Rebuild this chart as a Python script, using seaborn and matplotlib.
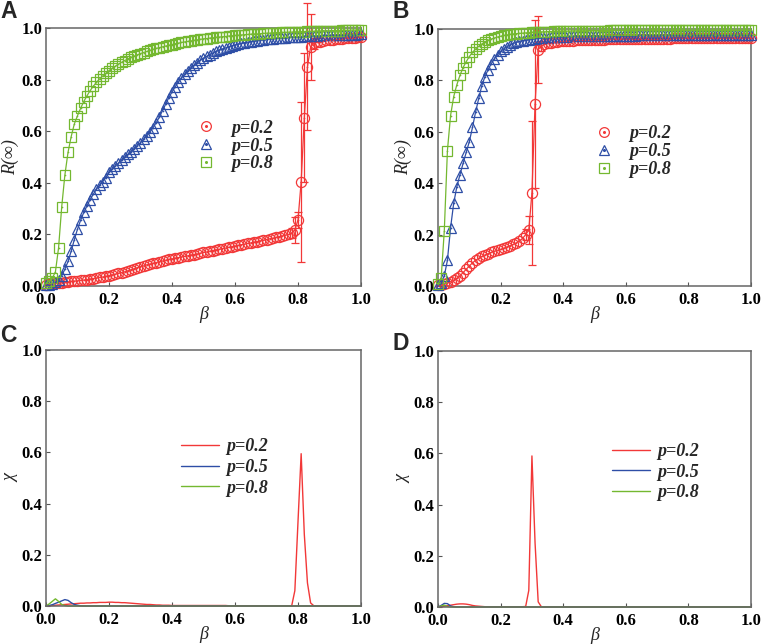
import numpy as np
import matplotlib
matplotlib.use("Agg")
import matplotlib.pyplot as plt
from matplotlib.lines import Line2D
import seaborn as sns

# ---------------- data ----------------
beta = np.round(np.arange(0, 101) * 0.01, 2)
labels = ["p=0.2", "p=0.5", "p=0.8"]

# Panel A : R(inf)
RA_02 = [0.005,0.006,0.008,0.010,0.012,0.013,0.015,0.016,0.018,0.019,
         0.020,0.022,0.023,0.025,0.027,0.029,0.031,0.033,0.035,0.037,
         0.040,0.043,0.046,0.049,0.052,0.055,0.059,0.063,0.067,0.071,
         0.075,0.078,0.082,0.085,0.088,0.091,0.094,0.097,0.100,0.103,
         0.105,0.108,0.110,0.113,0.115,0.117,0.120,0.122,0.124,0.127,
         0.130,0.132,0.135,0.137,0.140,0.142,0.145,0.147,0.150,0.152,
         0.155,0.157,0.160,0.162,0.165,0.167,0.170,0.172,0.175,0.177,
         0.180,0.183,0.185,0.188,0.191,0.194,0.197,0.200,0.205,0.217,
         0.256,0.404,0.652,0.850,0.927,0.940,0.944,0.947,0.950,0.952,
         0.954,0.955,0.957,0.958,0.959,0.960,0.961,0.962,0.963,0.964,0.965]
RA_05 = [0.002,0.004,0.008,0.014,0.024,0.040,0.065,0.095,0.135,0.180,
         0.220,0.255,0.285,0.310,0.335,0.355,0.375,0.390,0.405,0.420,
         0.440,0.452,0.464,0.476,0.488,0.499,0.510,0.521,0.532,0.543,
         0.555,0.568,0.582,0.597,0.614,0.633,0.655,0.680,0.705,0.730,
         0.752,0.772,0.790,0.806,0.820,0.833,0.845,0.856,0.866,0.875,
         0.883,0.890,0.897,0.903,0.909,0.914,0.919,0.923,0.927,0.931,
         0.934,0.937,0.940,0.943,0.945,0.947,0.949,0.951,0.953,0.955,
         0.956,0.958,0.959,0.960,0.961,0.962,0.963,0.964,0.965,0.966,
         0.966,0.967,0.968,0.968,0.969,0.969,0.970,0.970,0.971,0.971,
         0.972,0.972,0.972,0.973,0.973,0.973,0.974,0.974,0.974,0.975,0.975]
RA_08 = [0.010,0.020,0.030,0.055,0.148,0.307,0.430,0.518,0.579,0.628,
         0.660,0.689,0.715,0.737,0.757,0.774,0.789,0.802,0.814,0.825,
         0.835,0.844,0.852,0.860,0.867,0.874,0.880,0.886,0.891,0.896,
         0.901,0.905,0.909,0.913,0.917,0.921,0.924,0.927,0.930,0.933,
         0.936,0.939,0.941,0.944,0.946,0.948,0.950,0.952,0.954,0.956,
         0.958,0.959,0.961,0.962,0.964,0.965,0.966,0.967,0.969,0.970,
         0.971,0.972,0.973,0.974,0.975,0.976,0.977,0.977,0.978,0.979,
         0.980,0.980,0.981,0.982,0.982,0.983,0.983,0.984,0.984,0.985,
         0.985,0.986,0.986,0.987,0.987,0.987,0.988,0.988,0.989,0.989,
         0.989,0.990,0.990,0.990,0.991,0.991,0.991,0.992,0.992,0.992,0.993]
# error bars (beta, value, error) for p=0.2 near transition, panel A
errA_beta = [0.78, 0.79, 0.80, 0.81, 0.82, 0.83, 0.84, 0.85]
errA_val = [0.205, 0.217, 0.256, 0.404, 0.652, 0.850, 0.927, 0.940]
errA_err = [0.020, 0.050, 0.030, 0.310, 0.250, 0.247, 0.127, 0.020]

# Panel B : R(inf)
RB_02 = [0.003,0.005,0.008,0.012,0.017,0.023,0.030,0.040,0.052,0.065,
         0.078,0.090,0.100,0.108,0.115,0.121,0.126,0.131,0.135,0.139,
         0.143,0.147,0.152,0.157,0.162,0.168,0.175,0.185,0.200,0.218,
         0.363,0.708,0.920,0.934,0.940,0.944,0.947,0.949,0.951,0.952,
         0.953,0.954,0.955,0.955,0.956,0.956,0.957,0.957,0.958,0.958,
         0.958,0.959,0.959,0.959,0.960,0.960,0.960,0.960,0.961,0.961,
         0.961,0.961,0.961,0.962,0.962,0.962,0.962,0.962,0.962,0.963,
         0.963,0.963,0.963,0.963,0.963,0.964,0.964,0.964,0.964,0.964,
         0.964,0.964,0.964,0.965,0.965,0.965,0.965,0.965,0.965,0.965,
         0.965,0.965,0.966,0.966,0.966,0.966,0.966,0.966,0.966,0.966,0.966]
RB_05 = [0.003,0.012,0.040,0.100,0.226,0.322,0.386,0.433,0.477,0.520,
         0.562,0.617,0.677,0.730,0.780,0.815,0.842,0.865,0.884,0.900,
         0.913,0.923,0.931,0.938,0.944,0.948,0.952,0.955,0.957,0.959,
         0.961,0.963,0.964,0.965,0.966,0.967,0.968,0.969,0.969,0.970,
         0.970,0.970,0.971,0.971,0.971,0.972,0.972,0.972,0.972,0.973,
         0.973,0.973,0.973,0.973,0.973,0.974,0.974,0.974,0.974,0.974,
         0.974,0.974,0.974,0.974,0.975,0.975,0.975,0.975,0.975,0.975,
         0.975,0.975,0.975,0.975,0.975,0.975,0.975,0.975,0.975,0.975,
         0.975,0.975,0.975,0.975,0.975,0.976,0.976,0.976,0.976,0.976,
         0.976,0.976,0.976,0.976,0.976,0.976,0.976,0.976,0.976,0.976,0.976]
RB_08 = [0.008,0.030,0.215,0.527,0.663,0.737,0.783,0.820,0.850,0.873,
         0.893,0.909,0.922,0.933,0.942,0.950,0.956,0.961,0.965,0.969,
         0.972,0.975,0.977,0.979,0.981,0.982,0.983,0.984,0.985,0.986,
         0.987,0.988,0.988,0.989,0.989,0.990,0.990,0.991,0.991,0.991,
         0.992,0.992,0.992,0.993,0.993,0.993,0.993,0.993,0.994,0.994,
         0.994,0.994,0.994,0.994,0.994,0.995,0.995,0.995,0.995,0.995,
         0.995,0.995,0.995,0.995,0.995,0.995,0.995,0.995,0.995,0.995,
         0.995,0.995,0.995,0.995,0.995,0.995,0.995,0.995,0.995,0.995,
         0.995,0.995,0.995,0.995,0.995,0.995,0.995,0.995,0.995,0.995,
         0.995,0.995,0.995,0.995,0.995,0.995,0.995,0.995,0.995,0.995,0.995]
errB_beta = [0.28, 0.29, 0.30, 0.31, 0.32, 0.33]
errB_val = [0.200, 0.218, 0.363, 0.708, 0.920, 0.934]
errB_err = [0.020, 0.055, 0.280, 0.327, 0.130, 0.020]

# Panel C : chi
CC_02 = [0.000,0.001,0.002,0.003,0.004,0.005,0.006,0.007,0.008,0.009,
         0.010,0.011,0.011,0.012,0.012,0.013,0.013,0.014,0.014,0.014,
         0.015,0.015,0.014,0.014,0.013,0.013,0.012,0.011,0.010,0.009,
         0.008,0.007,0.006,0.006,0.005,0.004,0.004,0.003,0.003,0.003,
         0.002,0.002,0.002,0.002,0.002,0.002,0.002,0.002,0.002,0.002,
         0.002,0.002,0.002,0.002,0.002,0.002,0.002,0.002,0.001,0.001,
         0.001,0.001,0.001,0.001,0.001,0.001,0.001,0.001,0.001,0.001,
         0.001,0.001,0.001,0.001,0.001,0.001,0.001,0.001,0.001,0.060,
         0.330,0.595,0.280,0.090,0.012,0.001,0.000,0.000,0.000,0.000,
         0.000,0.000,0.000,0.000,0.000,0.000,0.000,0.000,0.000,0.000,0.000]
CC_05 = [0.000,0.002,0.005,0.010,0.015,0.020,0.025,0.022,0.013,0.006,
         0.003,0.001,0.000,0.000,0.000,0.000,0.000,0.000,0.000,0.000,
         0.000,0.000,0.000,0.000,0.000,0.000,0.000,0.000,0.000,0.000,
         0.000,0.000,0.000,0.000,0.000,0.000,0.000,0.000,0.000,0.000,
         0.000,0.000,0.000,0.000,0.000,0.000,0.000,0.000,0.000,0.000,
         0.000,0.000,0.000,0.000,0.000,0.000,0.000,0.000,0.000,0.000,
         0.000,0.000,0.000,0.000,0.000,0.000,0.000,0.000,0.000,0.000,
         0.000,0.000,0.000,0.000,0.000,0.000,0.000,0.000,0.000,0.000,
         0.000,0.000,0.000,0.000,0.000,0.000,0.000,0.000,0.000,0.000,
         0.000,0.000,0.000,0.000,0.000,0.000,0.000,0.000,0.000,0.000,0.000]
CC_08 = [0.000,0.008,0.018,0.028,0.018,0.006,0.002,0.000,0.000,0.000,
         0.000,0.000,0.000,0.000,0.000,0.000,0.000,0.000,0.000,0.000,
         0.000,0.000,0.000,0.000,0.000,0.000,0.000,0.000,0.000,0.000,
         0.000,0.000,0.000,0.000,0.000,0.000,0.000,0.000,0.000,0.000,
         0.000,0.000,0.000,0.000,0.000,0.000,0.000,0.000,0.000,0.000,
         0.000,0.000,0.000,0.000,0.000,0.000,0.000,0.000,0.000,0.000,
         0.000,0.000,0.000,0.000,0.000,0.000,0.000,0.000,0.000,0.000,
         0.000,0.000,0.000,0.000,0.000,0.000,0.000,0.000,0.000,0.000,
         0.000,0.000,0.000,0.000,0.000,0.000,0.000,0.000,0.000,0.000,
         0.000,0.000,0.000,0.000,0.000,0.000,0.000,0.000,0.000,0.000,0.000]

# Panel D : chi
CD_02 = [0.000,0.001,0.003,0.005,0.007,0.009,0.011,0.012,0.012,0.011,
         0.009,0.006,0.004,0.003,0.002,0.001,0.001,0.001,0.001,0.001,
         0.001,0.001,0.001,0.001,0.001,0.001,0.001,0.001,0.002,0.065,
         0.590,0.250,0.020,0.001,0.000,0.000,0.000,0.000,0.000,0.000,
         0.000,0.000,0.000,0.000,0.000,0.000,0.000,0.000,0.000,0.000,
         0.000,0.000,0.000,0.000,0.000,0.000,0.000,0.000,0.000,0.000,
         0.000,0.000,0.000,0.000,0.000,0.000,0.000,0.000,0.000,0.000,
         0.000,0.000,0.000,0.000,0.000,0.000,0.000,0.000,0.000,0.000,
         0.000,0.000,0.000,0.000,0.000,0.000,0.000,0.000,0.000,0.000,
         0.000,0.000,0.000,0.000,0.000,0.000,0.000,0.000,0.000,0.000,0.000]
CD_05 = [0.000,0.006,0.014,0.013,0.004,0.001,0.000,0.000,0.000,0.000,
         0.000,0.000,0.000,0.000,0.000,0.000,0.000,0.000,0.000,0.000,
         0.000,0.000,0.000,0.000,0.000,0.000,0.000,0.000,0.000,0.000,
         0.000,0.000,0.000,0.000,0.000,0.000,0.000,0.000,0.000,0.000,
         0.000,0.000,0.000,0.000,0.000,0.000,0.000,0.000,0.000,0.000,
         0.000,0.000,0.000,0.000,0.000,0.000,0.000,0.000,0.000,0.000,
         0.000,0.000,0.000,0.000,0.000,0.000,0.000,0.000,0.000,0.000,
         0.000,0.000,0.000,0.000,0.000,0.000,0.000,0.000,0.000,0.000,
         0.000,0.000,0.000,0.000,0.000,0.000,0.000,0.000,0.000,0.000,
         0.000,0.000,0.000,0.000,0.000,0.000,0.000,0.000,0.000,0.000,0.000]
CD_08 = [0.000,0.004,0.007,0.002,0.000,0.000,0.000,0.000,0.000,0.000,
         0.000,0.000,0.000,0.000,0.000,0.000,0.000,0.000,0.000,0.000,
         0.000,0.000,0.000,0.000,0.000,0.000,0.000,0.000,0.000,0.000,
         0.000,0.000,0.000,0.000,0.000,0.000,0.000,0.000,0.000,0.000,
         0.000,0.000,0.000,0.000,0.000,0.000,0.000,0.000,0.000,0.000,
         0.000,0.000,0.000,0.000,0.000,0.000,0.000,0.000,0.000,0.000,
         0.000,0.000,0.000,0.000,0.000,0.000,0.000,0.000,0.000,0.000,
         0.000,0.000,0.000,0.000,0.000,0.000,0.000,0.000,0.000,0.000,
         0.000,0.000,0.000,0.000,0.000,0.000,0.000,0.000,0.000,0.000,
         0.000,0.000,0.000,0.000,0.000,0.000,0.000,0.000,0.000,0.000,0.000]

ticks = [0.0, 0.2, 0.4, 0.6, 0.8, 1.0]
tick_labels = ["0.0", "0.2", "0.4", "0.6", "0.8", "1.0"]

colors = ["#F23838", "#2E4EA6", "#74B830"]
markers = ["o", "^", "s"]

# ---------------- style ----------------
sns.set_theme(style="white")
plt.rcParams["font.family"] = ["Liberation Serif", "DejaVu Serif"]

fig = plt.figure(figsize=(7.61, 6.44), dpi=100)
pos = {
    "A": [0.0604, 0.5559, 0.4140, 0.4006],
    "B": [0.5756, 0.5559, 0.4113, 0.3990],
    "C": [0.0604, 0.0590, 0.4140, 0.3975],
    "D": [0.5756, 0.0575, 0.4113, 0.3975],
}
axes = {k: fig.add_axes(v) for k, v in pos.items()}

TICKFONT = {"family": "Liberation Serif", "weight": "bold", "size": 12}
LEGFONT = {"family": "Liberation Serif", "weight": "bold", "style": "italic", "size": 13}


def style_axis(ax, ylabel):
    ax.set_xlim(0, 1)
    ax.set_ylim(0, 1)
    ax.set_xticks(ticks)
    ax.set_yticks(ticks)
    ax.set_xticklabels(tick_labels, fontdict=TICKFONT)
    ax.set_yticklabels(tick_labels, fontdict=TICKFONT)
    ax.tick_params(direction="in", length=3, width=0.8, colors="#555555",
                   labelcolor="black", bottom=True, left=True)
    ax.tick_params(axis="x", pad=4)
    ax.tick_params(axis="y", pad=2.5)
    for s in ax.spines.values():
        s.set_color("#666666")
        s.set_linewidth(1.1)
    ax.set_xlabel("β", fontsize=13, fontstyle="italic", labelpad=-1)
    ax.set_ylabel(ylabel, fontsize=13, fontstyle="italic", labelpad=1.5)


def draw_R(ax, series, err_beta, err_val, err_err, leg_anchor):
    for y, c, m, lab in zip(series, colors, markers, labels):
        sns.lineplot(x=beta, y=y, ax=ax, color=c, linewidth=0.9,
                     marker=m, markersize=7.3, markerfacecolor="none",
                     markeredgecolor=c, markeredgewidth=0.9,
                     clip_on=False, legend=False, zorder=3)
        sns.scatterplot(x=beta, y=y, ax=ax, color=c, s=1.5, linewidth=0,
                        clip_on=False, legend=False, zorder=4)
    ax.errorbar(err_beta, err_val, yerr=err_err, fmt="none", ecolor=colors[0],
                elinewidth=0.9, capsize=3, capthick=0.9, clip_on=False, zorder=2)
    handles = []
    for c, m in zip(colors, markers):
        h1 = Line2D([], [], marker=m, ls="none", mfc="none", mec=c, mew=0.9, ms=7)
        h2 = Line2D([], [], marker="o", ls="none", mfc=c, mec=c, ms=1.2)
        handles.append((h1, h2))
    ax.legend(handles, labels, loc="upper left", bbox_to_anchor=leg_anchor,
              frameon=False, borderpad=0, borderaxespad=0, handlelength=1.0,
              handletextpad=0.9, labelspacing=0.05, prop=LEGFONT)


def draw_chi(ax, series, leg_anchor):
    for y, c, lab in zip(series, colors, labels):
        sns.lineplot(x=beta, y=y, ax=ax, color=c, linewidth=1.0, label=lab,
                     clip_on=False)
    ax.legend(loc="upper left", bbox_to_anchor=leg_anchor, frameon=False,
              borderpad=0, borderaxespad=0, handlelength=2.1,
              handletextpad=0.4, labelspacing=0.2, prop=LEGFONT)


draw_R(axes["A"], [RA_02, RA_05, RA_08], errA_beta, errA_val, errA_err, (0.48, 0.645))
draw_R(axes["B"], [RB_02, RB_05, RB_08], errB_beta, errB_val, errB_err, (0.50, 0.625))
draw_chi(axes["C"], [CC_02, CC_05, CC_08], (0.43, 0.655))
draw_chi(axes["D"], [CD_02, CD_05, CD_08], (0.555, 0.64))

style_axis(axes["A"], "R(∞)")
style_axis(axes["B"], "R(∞)")
style_axis(axes["C"], "χ")
style_axis(axes["D"], "χ")

# panel letters
for letter, (x, y) in {"A": (0.0, 1.0), "B": (0.516, 1.0),
                       "C": (0.0, 0.497), "D": (0.516, 0.485)}.items():
    fig.text(x, y, letter, fontsize=16.5, fontweight="bold",
             family=["Liberation Sans", "DejaVu Sans"], va="top", ha="left")

fig.savefig("out.png", dpi=100)
